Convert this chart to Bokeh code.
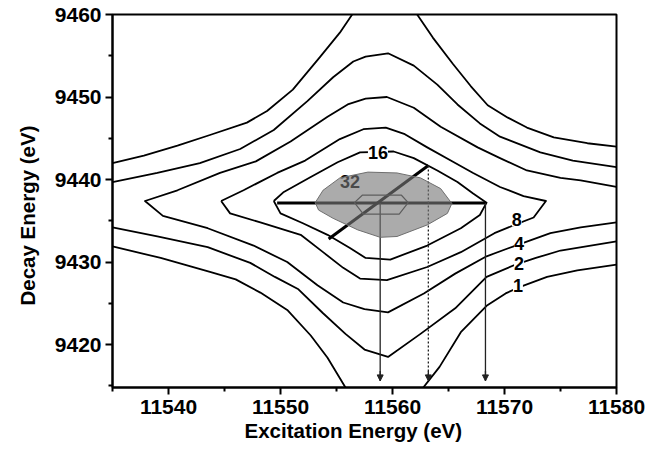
from bokeh.plotting import figure
from bokeh.models import Range1d, Label, Arrow, NormalHead, FixedTicker, Title
from bokeh.embed import file_html
from bokeh.resources import INLINE
from bokeh.core.properties import value

# ---------------- data (eV) ----------------
x_ticks = [11540, 11550, 11560, 11570, 11580]
x_minor = [11535, 11545, 11555, 11565, 11575]
y_ticks = [9420, 9430, 9440, 9450, 9460]
y_minor = [9415, 9425, 9435, 9445, 9455]
x_title = "Excitation Energy (eV)"
y_title = "Decay Energy (eV)"

# contour level 1 (four open branches)
c1_ul_x = [11535, 11537.8, 11540.8, 11543.7, 11547.0, 11548.8, 11551.1, 11553.5, 11555.3, 11556.4]
c1_ul_y = [9442.0, 9442.9, 9444.1, 9445.4, 9446.9, 9448.3, 9450.9, 9454.8, 9457.8, 9460.0]
c1_ur_x = [11562.2, 11563.6, 11565.4, 11567.0, 11568.5, 11570.3, 11572.0, 11574.4, 11577.4, 11580]
c1_ur_y = [9460.0, 9457.2, 9454.0, 9451.3, 9449.0, 9447.5, 9446.3, 9445.1, 9444.4, 9444.0]
c1_ll_x = [11535, 11539.3, 11543.7, 11546.0, 11548.2, 11550.6, 11552.7, 11554.2, 11555.8]
c1_ll_y = [9431.9, 9430.5, 9428.8, 9427.9, 9426.3, 9424.2, 9421.1, 9418.4, 9414.8]
c1_lr_x = [11562.75, 11564.2, 11566.1, 11568.4, 11570.1, 11571.4, 11573.8, 11576.5, 11580]
c1_lr_y = [9414.8, 9417.3, 9421.5, 9424.7, 9426.2, 9427.0, 9428.2, 9429.0, 9429.7]

# contour level 2 (upper and lower, edge to edge)
c2_u_x = [11535, 11539.0, 11542.8, 11546.4, 11549.4, 11552.4, 11554.7, 11556.5, 11557.6,
          11559.6, 11561.9, 11564.0, 11565.8, 11567.8, 11569.6, 11573.2, 11576.1, 11580]
c2_u_y = [9439.7, 9440.8, 9442.0, 9443.7, 9446.0, 9449.5, 9452.4, 9454.3, 9454.9,
          9455.3, 9453.8, 9451.5, 9449.1, 9446.8, 9445.2, 9443.3, 9442.3, 9441.5]
c2_l_x = [11535, 11539.0, 11543.5, 11547.3, 11549.5, 11551.6, 11553.8, 11555.8, 11557.5,
          11559.6, 11562.5, 11565.6, 11568.4, 11571.0, 11572.8, 11575.0, 11577.7, 11580]
c2_l_y = [9434.2, 9433.1, 9431.8, 9429.9, 9428.2, 9426.7, 9423.8, 9421.3, 9419.4,
          9418.5, 9421.3, 9424.4, 9428.2, 9429.7, 9430.5, 9431.4, 9432.0, 9432.5]

# contour level 4 (open to the right, closed on the left)
c4_x = [11580, 11576.8, 11575.0, 11572.0, 11569.6, 11567.6, 11564.3, 11561.9, 11559.5, 11557.6,
        11556.0, 11554.2, 11550.9, 11547.8, 11544.6, 11540.8, 11537.9,
        11539.5, 11543.5, 11547.6, 11550.6, 11553.3, 11555.6, 11557.5, 11559.6, 11562.8,
        11565.6, 11568.4, 11571.0, 11574.1, 11576.8, 11580]
c4_y = [9439.1, 9439.9, 9440.2, 9441.1, 9442.6, 9443.9, 9446.4, 9448.7, 9450.0, 9449.8,
        9449.1, 9447.6, 9444.6, 9442.2, 9440.8, 9438.7, 9437.4,
        9435.6, 9434.1, 9432.0, 9430.0, 9427.2, 9425.1, 9424.3, 9423.9, 9426.2,
        9428.6, 9430.7, 9432.0, 9433.5, 9434.2, 9434.8]

# contour level 8 (closed)
c8_x = [11544.7, 11546.7, 11549.7, 11552.2, 11555.3, 11557.4, 11559.4, 11561.1, 11563.1, 11565.2,
        11567.2, 11569.6, 11571.7, 11573.7, 11572.6, 11570.9, 11569.1, 11566.1, 11563.1, 11559.5,
        11557.1, 11555.6, 11553.8, 11551.8, 11548.2, 11545.5, 11544.7]
c8_y = [9437.4, 9438.7, 9440.8, 9442.3, 9444.9, 9446.1, 9446.3, 9445.5, 9443.9, 9442.3,
        9440.8, 9439.1, 9438.0, 9437.4, 9435.4, 9434.5, 9433.5, 9431.2, 9429.4, 9427.8,
        9428.0, 9429.3, 9431.2, 9433.3, 9434.8, 9435.9, 9437.4]

# contour level 16 (closed)
c16_x = [11549.4, 11550.3, 11552.7, 11555.1, 11557.1, 11560.1, 11561.9, 11564.0, 11565.8, 11567.2,
         11568.4, 11567.8, 11566.1, 11563.1, 11559.8, 11557.6, 11556.2, 11554.2, 11552.0, 11550.0, 11549.4]
c16_y = [9437.4, 9438.5, 9440.3, 9442.1, 9443.3, 9443.4, 9442.6, 9441.1, 9439.7, 9438.3,
         9437.2, 9435.7, 9434.1, 9432.0, 9430.3, 9430.5, 9431.7, 9433.3, 9434.7, 9435.9, 9437.4]

# contour level 32 (shaded)
c32_x = [11553.1, 11553.8, 11555.3, 11557.8, 11560.4, 11562.5, 11564.3, 11565.3,
         11564.9, 11563.1, 11560.4, 11558.9, 11556.9, 11554.7, 11553.4]
c32_y = [9437.2, 9438.7, 9440.2, 9440.9, 9440.8, 9440.2, 9438.9, 9437.1,
         9435.9, 9434.5, 9433.1, 9433.0, 9433.9, 9435.3, 9436.3]

# innermost contour (hexagon)
c64_x = [11556.6, 11557.3, 11560.8, 11561.4, 11560.6, 11557.4, 11556.6]
c64_y = [9437.2, 9438.1, 9438.1, 9437.2, 9435.8, 9435.8, 9437.2]

# contour labels
lab_text = ["16", "8", "4", "2", "1"]
lab_x = [11558.7, 11571.1, 11571.3, 11571.3, 11571.2]
lab_y = [9443.3, 9435.1, 9432.3, 9429.8, 9427.1]
lab32_x = [11556.2]
lab32_y = [9439.8]

# cut lines
horiz_x = [11549.7, 11568.3]
horiz_y = [9437.17, 9437.17]
diag_x = [11554.3, 11563.2]
diag_y = [9432.8, 9441.7]
arrow_x = [11558.9, 11568.3]
arrow_top = 9437.17
dotted_x = 11563.2
dotted_top = 9441.7
arrow_tip = 9415.6

FONT = "Liberation Sans"

p = figure(width=668, height=455,
           x_range=Range1d(11535, 11580), y_range=Range1d(9414.8, 9460),
           output_backend="svg", toolbar_location=None,
           min_border_left=112, min_border_right=52, min_border_top=14, min_border_bottom=68)
p.background_fill_color = "white"
p.border_fill_color = "white"
p.xgrid.visible = False
p.ygrid.visible = False
p.outline_line_color = "black"
p.outline_line_width = 2
p.outline_line_alpha = 1

p.xaxis.ticker = FixedTicker(ticks=x_ticks, minor_ticks=x_minor)
p.yaxis.ticker = FixedTicker(ticks=y_ticks, minor_ticks=y_minor)
for ax in (p.xaxis[0], p.yaxis[0]):
    ax.axis_line_width = 2
    ax.axis_line_color = "black"
    ax.major_tick_line_width = 2
    ax.minor_tick_line_width = 2
    ax.major_tick_line_color = "black"
    ax.minor_tick_line_color = "black"
    ax.major_tick_in = 0
    ax.minor_tick_in = 0
    ax.major_tick_out = 7
    ax.minor_tick_out = 4
    ax.major_label_text_font = FONT
    ax.major_label_text_font_size = "21px"
    ax.major_label_text_font_style = "bold"
    ax.major_label_text_color = "black"
p.xaxis.major_label_standoff = 5
p.yaxis.major_label_standoff = 4

LW = 1.8
for xs, ys in [(c1_ul_x, c1_ul_y), (c1_ur_x, c1_ur_y), (c1_ll_x, c1_ll_y), (c1_lr_x, c1_lr_y),
               (c2_u_x, c2_u_y), (c2_l_x, c2_l_y), (c4_x, c4_y), (c8_x, c8_y), (c16_x, c16_y)]:
    p.line(xs, ys, line_color="black", line_width=LW, line_join="round")

# cut lines
p.line(horiz_x, horiz_y, line_color="black", line_width=3)
p.line(diag_x, diag_y, line_color="black", line_width=3)
for ax_ in arrow_x:
    p.line([ax_, ax_], [arrow_top, arrow_tip], line_color="#222222", line_width=1.3)
p.line([dotted_x, dotted_x], [dotted_top, arrow_tip], line_color="#222222", line_width=1.3,
       line_dash="2 2")

# innermost contour and 32 label under the shading
p.line(c64_x, c64_y, line_color="#333333", line_width=1.2)
p.text(lab32_x, lab32_y, text=["32"], text_font=value(FONT), text_font_size="18px",
       text_font_style="bold", text_align="center", text_baseline="middle", text_color="black")

# shaded level 32
p.patch(c32_x, c32_y, fill_color=(120, 120, 120), fill_alpha=0.62,
        line_color="#6f6f6f", line_width=1)

# arrow heads
for ax_ in arrow_x + [dotted_x]:
    p.add_layout(Arrow(x_start=ax_, y_start=arrow_tip + 1.2, x_end=ax_, y_end=arrow_tip,
                       line_width=1.3, line_color="#222222",
                       end=NormalHead(size=6, fill_color="#222222", line_color="#222222", line_width=1)))

# contour labels with white background breaking the lines
for t, lx, ly in zip(lab_text, lab_x, lab_y):
    p.add_layout(Label(x=lx, y=ly, text=t, text_font=FONT, text_font_size="18px",
                       text_font_style="bold",
                       text_align="center", text_baseline="middle", text_color="black",
                       background_fill_color="white", background_fill_alpha=1.0))

# axis titles
tx = Title(text=x_title, align="left", offset=132, standoff=0,
           text_font=FONT, text_font_size="20.5px", text_font_style="bold", text_color="black")
p.add_layout(tx, "below")
ty = Title(text=y_title, align="left", offset=82, standoff=25,
           text_font=FONT, text_font_size="20.5px", text_font_style="bold", text_color="black")
p.add_layout(ty, "left")

open("out.html", "w").write(file_html(p, INLINE))
